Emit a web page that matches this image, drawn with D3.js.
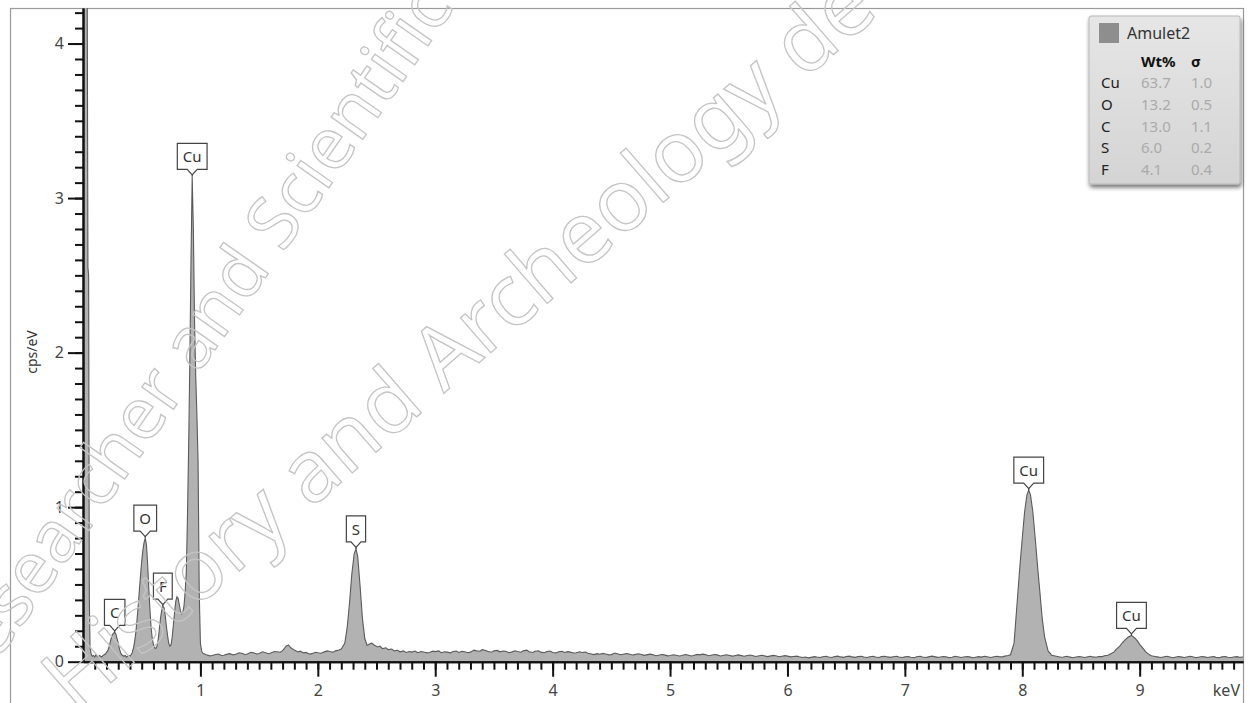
<!DOCTYPE html>
<html>
<head>
<meta charset="utf-8">
<script src="https://cdn.jsdelivr.net/npm/d3@7"></script>
<style>
  body { margin: 0; background: #fff; }
  svg { display: block; font-family: "Noto Sans", "Open Sans", sans-serif; }
</style>
</head>
<body>
<div id="chart"></div>
<script>
// EDS spectrum, [keV, cps/eV]
const spectrum = [
  [0.000, 4.60], [0.035, 4.60], [0.042, 2.55], [0.048, 2.50], [0.054, 0.40], [0.060, 0.09],
  [0.07, 0.05], [0.08, 0.035], [0.09, 0.04], [0.10, 0.03], [0.11, 0.045], [0.12, 0.035],
  [0.13, 0.03], [0.14, 0.04], [0.15, 0.035], [0.16, 0.03], [0.17, 0.04], [0.18, 0.045],
  [0.19, 0.05], [0.20, 0.06], [0.21, 0.07], [0.22, 0.09], [0.23, 0.12], [0.24, 0.15],
  [0.25, 0.175], [0.26, 0.185], [0.27, 0.19], [0.28, 0.18], [0.29, 0.15], [0.30, 0.12],
  [0.31, 0.085], [0.32, 0.06], [0.33, 0.045], [0.34, 0.04], [0.35, 0.035], [0.36, 0.04],
  [0.37, 0.03], [0.38, 0.035], [0.39, 0.04], [0.40, 0.035], [0.41, 0.045], [0.42, 0.06],
  [0.43, 0.09], [0.44, 0.13], [0.45, 0.19], [0.46, 0.27], [0.47, 0.36], [0.48, 0.46],
  [0.49, 0.56], [0.50, 0.65], [0.51, 0.72], [0.52, 0.77], [0.53, 0.80], [0.54, 0.76],
  [0.55, 0.64], [0.56, 0.48], [0.57, 0.34], [0.58, 0.22], [0.59, 0.15], [0.60, 0.11],
  [0.61, 0.09], [0.62, 0.085], [0.63, 0.10], [0.64, 0.14], [0.65, 0.21], [0.66, 0.28],
  [0.67, 0.33], [0.68, 0.36], [0.69, 0.35], [0.70, 0.30], [0.71, 0.23], [0.72, 0.17],
  [0.73, 0.12], [0.74, 0.10], [0.75, 0.11], [0.76, 0.16], [0.77, 0.24], [0.78, 0.32],
  [0.79, 0.39], [0.80, 0.42], [0.81, 0.41], [0.82, 0.37], [0.83, 0.33], [0.84, 0.31],
  [0.85, 0.32], [0.86, 0.36], [0.87, 0.45], [0.88, 0.58], [0.89, 0.95], [0.90, 1.40],
  [0.91, 1.95], [0.92, 2.60], [0.93, 3.14], [0.94, 2.80], [0.95, 2.20], [0.96, 1.85],
  [0.97, 1.60], [0.98, 1.30], [0.99, 0.45], [1.00, 0.12], [1.01, 0.07], [1.02, 0.055],
  [1.05, 0.045], [1.08, 0.038], [1.10, 0.040], [1.13, 0.047], [1.15, 0.050], [1.18, 0.040],
  [1.20, 0.042], [1.23, 0.049], [1.25, 0.052], [1.28, 0.044], [1.30, 0.048], [1.33, 0.058],
  [1.35, 0.055], [1.38, 0.047], [1.40, 0.050], [1.43, 0.061], [1.45, 0.058], [1.48, 0.050],
  [1.50, 0.053], [1.53, 0.064], [1.55, 0.060], [1.58, 0.052], [1.60, 0.056], [1.63, 0.066],
  [1.65, 0.064], [1.68, 0.061], [1.70, 0.072], [1.73, 0.100], [1.75, 0.108], [1.77, 0.090],
  [1.80, 0.075], [1.83, 0.063], [1.85, 0.068], [1.88, 0.057], [1.90, 0.060], [1.93, 0.049],
  [1.95, 0.052], [1.98, 0.061], [2.00, 0.058], [2.03, 0.055], [2.05, 0.062], [2.08, 0.070],
  [2.10, 0.066], [2.13, 0.061], [2.15, 0.070], [2.18, 0.076], [2.20, 0.082], [2.23, 0.12],
  [2.25, 0.22], [2.27, 0.38], [2.29, 0.57], [2.31, 0.70], [2.325, 0.73], [2.34, 0.68],
  [2.36, 0.49], [2.38, 0.28], [2.40, 0.15], [2.42, 0.105], [2.44, 0.115], [2.46, 0.120],
  [2.48, 0.108], [2.51, 0.095], [2.53, 0.100], [2.55, 0.085], [2.58, 0.090], [2.60, 0.078],
  [2.63, 0.082], [2.65, 0.070], [2.68, 0.074], [2.70, 0.064], [2.73, 0.070], [2.75, 0.060],
  [2.78, 0.066], [2.80, 0.062], [2.83, 0.069], [2.85, 0.058], [2.88, 0.066], [2.90, 0.063],
  [2.93, 0.057], [2.95, 0.060], [2.98, 0.068], [3.00, 0.065], [3.03, 0.070], [3.05, 0.058],
  [3.08, 0.064], [3.10, 0.062], [3.13, 0.057], [3.15, 0.066], [3.18, 0.069], [3.20, 0.060],
  [3.23, 0.067], [3.25, 0.064], [3.28, 0.058], [3.30, 0.062], [3.33, 0.075], [3.35, 0.070],
  [3.38, 0.068], [3.40, 0.078], [3.43, 0.072], [3.45, 0.066], [3.48, 0.061], [3.50, 0.070],
  [3.53, 0.073], [3.55, 0.064], [3.58, 0.069], [3.60, 0.068], [3.63, 0.058], [3.65, 0.062],
  [3.68, 0.071], [3.70, 0.066], [3.73, 0.061], [3.75, 0.070], [3.78, 0.075], [3.80, 0.064],
  [3.83, 0.060], [3.85, 0.068], [3.88, 0.071], [3.90, 0.062], [3.93, 0.058], [3.95, 0.066],
  [3.98, 0.069], [4.00, 0.060], [4.03, 0.057], [4.05, 0.064], [4.08, 0.067], [4.10, 0.060],
  [4.13, 0.065], [4.15, 0.062], [4.18, 0.056], [4.20, 0.058], [4.23, 0.064], [4.25, 0.060],
  [4.28, 0.062], [4.30, 0.055], [4.33, 0.050], [4.35, 0.046], [4.38, 0.052], [4.40, 0.048],
  [4.43, 0.054], [4.45, 0.050], [4.48, 0.044], [4.50, 0.046], [4.53, 0.056], [4.55, 0.052],
  [4.58, 0.045], [4.60, 0.048], [4.63, 0.053], [4.65, 0.050], [4.68, 0.043], [4.70, 0.046],
  [4.73, 0.051], [4.75, 0.048], [4.78, 0.041], [4.80, 0.044], [4.83, 0.049], [4.85, 0.046],
  [4.88, 0.039], [4.90, 0.042], [4.93, 0.047], [4.95, 0.044], [4.98, 0.038], [5.00, 0.040],
  [5.03, 0.045], [5.05, 0.042], [5.08, 0.037], [5.10, 0.040], [5.13, 0.046], [5.15, 0.043],
  [5.18, 0.037], [5.20, 0.040], [5.23, 0.047], [5.25, 0.044], [5.28, 0.049], [5.30, 0.046],
  [5.33, 0.039], [5.35, 0.042], [5.38, 0.047], [5.40, 0.044], [5.43, 0.037], [5.45, 0.040],
  [5.48, 0.045], [5.50, 0.042], [5.53, 0.036], [5.55, 0.039], [5.58, 0.044], [5.60, 0.041],
  [5.63, 0.035], [5.65, 0.038], [5.68, 0.043], [5.70, 0.040], [5.73, 0.034], [5.75, 0.037],
  [5.78, 0.042], [5.80, 0.039], [5.83, 0.033], [5.85, 0.036], [5.88, 0.041], [5.90, 0.038],
  [5.93, 0.032], [5.95, 0.035], [5.98, 0.039], [6.00, 0.036], [6.03, 0.031], [6.05, 0.034],
  [6.08, 0.036], [6.10, 0.032], [6.13, 0.027], [6.15, 0.030], [6.18, 0.025], [6.20, 0.028],
  [6.23, 0.033], [6.25, 0.030], [6.28, 0.027], [6.30, 0.032], [6.33, 0.035], [6.35, 0.030],
  [6.38, 0.027], [6.40, 0.033], [6.43, 0.036], [6.45, 0.031], [6.48, 0.028], [6.50, 0.034],
  [6.53, 0.036], [6.55, 0.031], [6.58, 0.028], [6.60, 0.033], [6.63, 0.035], [6.65, 0.030],
  [6.68, 0.027], [6.70, 0.032], [6.73, 0.035], [6.75, 0.030], [6.78, 0.027], [6.80, 0.033],
  [6.83, 0.035], [6.85, 0.031], [6.88, 0.028], [6.90, 0.032], [6.93, 0.035], [6.95, 0.030],
  [6.98, 0.027], [7.00, 0.031], [7.03, 0.034], [7.05, 0.029], [7.08, 0.026], [7.10, 0.032],
  [7.13, 0.035], [7.15, 0.030], [7.18, 0.027], [7.20, 0.031], [7.23, 0.036], [7.25, 0.033],
  [7.28, 0.028], [7.30, 0.030], [7.33, 0.034], [7.35, 0.031], [7.38, 0.026], [7.40, 0.029],
  [7.43, 0.035], [7.45, 0.032], [7.48, 0.027], [7.50, 0.030], [7.53, 0.034], [7.55, 0.031],
  [7.58, 0.026], [7.60, 0.029], [7.63, 0.033], [7.65, 0.030], [7.68, 0.035], [7.70, 0.032],
  [7.73, 0.027], [7.75, 0.030], [7.78, 0.035], [7.80, 0.033], [7.83, 0.031], [7.85, 0.036],
  [7.88, 0.040], [7.90, 0.045], [7.93, 0.12], [7.96, 0.42], [7.98, 0.62], [8.00, 0.80],
  [8.02, 0.97], [8.04, 1.08], [8.055, 1.11], [8.07, 1.08], [8.09, 0.97], [8.11, 0.80],
  [8.13, 0.62], [8.15, 0.45], [8.17, 0.28], [8.19, 0.16], [8.22, 0.07], [8.25, 0.042],
  [8.28, 0.037], [8.30, 0.034], [8.33, 0.029], [8.35, 0.030], [8.38, 0.035], [8.40, 0.031],
  [8.43, 0.026], [8.45, 0.029], [8.48, 0.034], [8.50, 0.032], [8.53, 0.027], [8.55, 0.030],
  [8.58, 0.035], [8.60, 0.031], [8.63, 0.029], [8.65, 0.034], [8.68, 0.033], [8.70, 0.038],
  [8.73, 0.042], [8.75, 0.050], [8.78, 0.062], [8.80, 0.080], [8.83, 0.100], [8.85, 0.120],
  [8.88, 0.145], [8.90, 0.158], [8.93, 0.170], [8.96, 0.152], [8.98, 0.135], [9.00, 0.112],
  [9.03, 0.085], [9.05, 0.065], [9.08, 0.046], [9.10, 0.038], [9.13, 0.034], [9.15, 0.031],
  [9.18, 0.027], [9.20, 0.030], [9.23, 0.035], [9.25, 0.032], [9.28, 0.026], [9.30, 0.029],
  [9.33, 0.034], [9.35, 0.031], [9.38, 0.027], [9.40, 0.030], [9.43, 0.035], [9.45, 0.032],
  [9.48, 0.026], [9.50, 0.029], [9.53, 0.034], [9.55, 0.031], [9.58, 0.027], [9.60, 0.030],
  [9.63, 0.033], [9.65, 0.028], [9.68, 0.026], [9.70, 0.031], [9.73, 0.034], [9.75, 0.029],
  [9.78, 0.027], [9.80, 0.030], [9.83, 0.033], [9.85, 0.029], [9.88, 0.030]
];

// peak markers
const peakElements = ["C", "O", "F", "Cu", "S", "Cu", "Cu"];
const peakKeV = [0.27, 0.53, 0.68, 0.93, 2.325, 8.055, 8.93];

const xMajorTicks = [1, 2, 3, 4, 5, 6, 7, 8, 9];
const yMajorTicks = [0, 1, 2, 3, 4];

// quant table
const legendSample = "Amulet2";
const legendElements = ["Cu", "O", "C", "S", "F"];
const legendWt = ["63.7", "13.2", "13.0", "6.0", "4.1"];
const legendSigma = ["1.0", "0.5", "1.1", "0.2", "0.4"];

const watermarkLines = ["Researcher and Scientific", "History and Archeology de"];

const W = 1249, H = 703;
const plotLeft = 83, plotRight = 1243, plotTop = 8, plotBottom = 661.7;

const svg = d3.select("#chart").append("svg")
  .attr("width", W).attr("height", H);

const x = d3.scaleLinear().domain([0, 9.88]).range([plotLeft, plotRight]);
const y = d3.scaleLinear().domain([0, 4.23]).range([plotBottom, plotTop]);

// outer frame
svg.append("rect")
  .attr("x", 10.5).attr("y", 8.5)
  .attr("width", plotRight - 10).attr("height", 720)
  .attr("fill", "none").attr("stroke", "#9a9a9a").attr("stroke-width", 1.2);

svg.append("clipPath").attr("id", "plotClip")
  .append("rect").attr("x", plotLeft).attr("y", plotTop)
  .attr("width", plotRight - plotLeft).attr("height", plotBottom - plotTop);

const plot = svg.append("g").attr("clip-path", "url(#plotClip)");

const area = d3.area()
  .x(d => x(d[0])).y0(y(0)).y1(d => y(d[1]));
const line = d3.line()
  .x(d => x(d[0])).y(d => y(d[1]));

plot.append("path").datum(spectrum)
  .attr("d", area).attr("fill", "#b2b2b2");
plot.append("path").datum(spectrum)
  .attr("d", line).attr("fill", "none")
  .attr("stroke", "#5a5a5a").attr("stroke-width", 1.1);

// axes
function styleAxis(g) {
  g.select(".domain").attr("stroke", "#111").attr("stroke-width", 2);
  g.selectAll(".tick line").attr("stroke", "#111").attr("stroke-width", 2);
  g.selectAll(".tick text").attr("fill", "#444").style("font-size", "16px")
    .style("font-family", '"Noto Sans", sans-serif');
}

const yMinor = d3.range(1, 43).map(i => i / 10);
svg.append("g").attr("transform", `translate(${plotLeft},0)`)
  .call(d3.axisLeft(y).tickValues(yMinor).tickSize(8).tickSizeOuter(0).tickFormat(""))
  .call(styleAxis);
svg.append("g").attr("transform", `translate(${plotLeft},0)`)
  .call(d3.axisLeft(y).tickValues(yMajorTicks).tickSize(15).tickSizeOuter(0).tickPadding(4).tickFormat(d3.format("d")))
  .call(styleAxis);

const xMinor = d3.range(1, 99).map(i => i / 10);
svg.append("g").attr("transform", `translate(0,${plotBottom})`)
  .call(d3.axisBottom(x).tickValues(xMinor).tickSize(8).tickSizeOuter(0).tickFormat(""))
  .call(styleAxis);
svg.append("g").attr("transform", `translate(0,${plotBottom})`)
  .call(d3.axisBottom(x).tickValues(xMajorTicks).tickSize(15).tickSizeOuter(0).tickPadding(8).tickFormat(d3.format("d")))
  .call(styleAxis);

svg.append("text")
  .attr("x", 1240).attr("y", 696)
  .attr("text-anchor", "end").attr("fill", "#444")
  .style("font-size", "16px").text("keV");

svg.append("text")
  .attr("transform", "translate(37,352) rotate(-90)")
  .attr("text-anchor", "middle").attr("fill", "#333")
  .style("font-size", "14px").text("cps/eV");

// peak labels
function cpsAt(k) {
  const i = d3.leastIndex(spectrum, d => Math.abs(d[0] - k));
  return spectrum[i][1];
}
peakElements.forEach((el, i) => {
  const g = svg.append("g")
    .attr("transform", `translate(${x(peakKeV[i])},${y(cpsAt(peakKeV[i]))})`);
  const path = g.append("path");
  const t = g.append("text")
    .attr("text-anchor", "middle").attr("y", -14)
    .attr("fill", "#333").style("font-size", "15px").text(el);
  const w = t.node().getComputedTextLength() + 11;
  path.attr("d", `M${-w / 2},-33H${w / 2}V-7H5L0,-1.5L-5,-7H${-w / 2}Z`)
    .attr("fill", "#fff").attr("stroke", "#444").attr("stroke-width", 1.2);
  g.append("line").attr("x1", 0).attr("x2", 0).attr("y1", -2).attr("y2", 0)
    .attr("stroke", "#444").attr("stroke-width", 1.2);
});

// legend
const defs = svg.append("defs");
const grad = defs.append("linearGradient").attr("id", "legGrad")
  .attr("x1", 0).attr("y1", 0).attr("x2", 0).attr("y2", 1);
grad.append("stop").attr("offset", "0%").attr("stop-color", "#e6e6e6");
grad.append("stop").attr("offset", "100%").attr("stop-color", "#d4d4d4");
const shadow = defs.append("filter").attr("id", "legShadow")
  .attr("x", "-10%").attr("y", "-10%").attr("width", "130%").attr("height", "130%");
shadow.append("feDropShadow").attr("dx", 1).attr("dy", 3).attr("stdDeviation", 2)
  .attr("flood-color", "#000").attr("flood-opacity", 0.55);

const leg = svg.append("g").attr("transform", "translate(1089,16)");
leg.append("rect").attr("width", 151).attr("height", 168).attr("rx", 2)
  .attr("fill", "url(#legGrad)").attr("stroke", "#b8b8b8")
  .attr("filter", "url(#legShadow)");
leg.append("rect").attr("x", 10).attr("y", 7).attr("width", 20).attr("height", 20)
  .attr("fill", "#8e8e8e");
leg.append("text").attr("x", 38).attr("y", 23).attr("fill", "#333")
  .style("font-size", "16px").text(legendSample);
leg.append("text").attr("x", 52).attr("y", 51).attr("fill", "#111")
  .style("font-size", "15px").style("font-weight", "bold").text("Wt%");
leg.append("text").attr("x", 102).attr("y", 51).attr("fill", "#111")
  .style("font-size", "15px").style("font-weight", "bold").text("σ");
legendElements.forEach((el, i) => {
  const ry = 72 + i * 21.8;
  leg.append("text").attr("x", 12).attr("y", ry).attr("fill", "#222")
    .style("font-size", "15px").text(el);
  leg.append("text").attr("x", 52).attr("y", ry).attr("fill", "#aaa")
    .style("font-size", "15px").text(legendWt[i]);
  leg.append("text").attr("x", 102).attr("y", ry).attr("fill", "#aaa")
    .style("font-size", "15px").text(legendSigma[i]);
});

// watermark
const wm = svg.append("g").attr("pointer-events", "none");
wm.append("text")
  .attr("transform", "translate(-30,700) rotate(-55)")
  .attr("fill", "none").attr("stroke", "#c4c4c4").attr("stroke-width", 1.3)
  .style("font-size", "72px").text(watermarkLines[0]);
wm.append("text")
  .attr("transform", "translate(75,714) rotate(-41)")
  .attr("fill", "none").attr("stroke", "#c4c4c4").attr("stroke-width", 1.3)
  .style("font-size", "86px").text(watermarkLines[1]);
</script>
</body>
</html>
